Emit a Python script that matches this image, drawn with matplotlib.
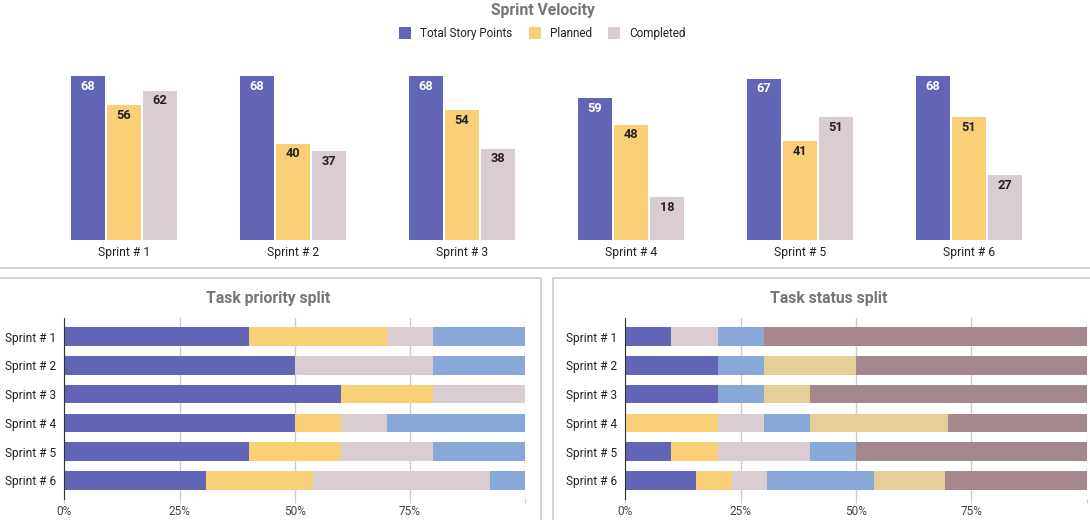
import matplotlib
matplotlib.use("Agg")
import matplotlib.pyplot as plt
from matplotlib.patches import Rectangle
from matplotlib.lines import Line2D
import numpy as np

plt.rcParams['font.family'] = ['Roboto', 'DejaVu Sans']

# ---------------- data ----------------
sprints = ["Sprint # 1", "Sprint # 2", "Sprint # 3", "Sprint # 4", "Sprint # 5", "Sprint # 6"]
total_points = [68, 68, 68, 59, 67, 68]
planned = [56, 40, 54, 48, 41, 51]
completed = [62, 37, 38, 18, 51, 27]
velocity_series = ["Total Story Points", "Planned", "Completed"]

# Task priority split (% per sprint, 4 segments)
prio_1 = [40, 50, 60, 50, 40, 30.8]
prio_2 = [30, 0, 20, 10, 20, 23.1]
prio_3 = [10, 30, 20, 10, 20, 38.5]
prio_4 = [20, 20, 0, 30, 20, 7.6]

# Task status split (% per sprint, 6 segments)
stat_1 = [10, 20, 20, 0, 10, 15.4]
stat_2 = [0, 0, 0, 20, 10, 7.7]
stat_3 = [10, 0, 0, 10, 20, 7.7]
stat_4 = [10, 10, 10, 10, 10, 23.1]
stat_5 = [0, 20, 10, 30, 0, 15.4]
stat_6 = [70, 50, 60, 30, 50, 30.7]

pct_ticks = [0, 25, 50, 75]
pct_labels = ["0%", "25%", "50%", "75%"]

# ---------------- style ----------------
PURPLE = "#6264b5"
YELLOW = "#f9d077"
PINK = "#d9cdd2"
BLUE = "#88a8d8"
TAN = "#e6cf96"
MAUVE = "#a5878e"
TITLE_GRAY = "#757575"
TEXT = "#222222"
BORDER = "#cccccc"

W, H = 1090, 520
fig = plt.figure(figsize=(W / 100, H / 100), dpi=100)


def px_axes(x0, y0, x1, y1):
    return fig.add_axes([x0 / W, 1 - y1 / H, (x1 - x0) / W, (y1 - y0) / H])


def fx(x):
    return x / W


def fy(y):
    return 1 - y / H


# ---------------- frames ----------------
fig.add_artist(Line2D([0, 1], [fy(268), fy(268)], transform=fig.transFigure, color=BORDER, lw=1.2))
fig.add_artist(Rectangle((fx(-2), fy(523)), fx(542.5), fy(277.5) - fy(523), transform=fig.transFigure,
                         fill=False, edgecolor=BORDER, lw=1.2))
fig.add_artist(Rectangle((fx(553.3), fy(523)), fx(560), fy(277.5) - fy(523), transform=fig.transFigure,
                         fill=False, edgecolor=BORDER, lw=1.2))

# ---------------- top chart ----------------
ax = px_axes(39.5, 60, 1053.5, 240.3)
x = np.arange(len(sprints))
bw = 0.201
off = 0.213
series = [total_points, planned, completed]
cols = [PURPLE, YELLOW, PINK]
lab_cols = ["white", TEXT, TEXT]
for k, (vals, c, lc) in enumerate(zip(series, cols, lab_cols)):
    xs = x + (k - 1) * off
    ax.bar(xs, vals, width=bw, color=c, label=velocity_series[k], zorder=2)
    for xi, v in zip(xs, vals):
        ax.annotate(str(v), (xi, v), xytext=(0, -7.3), textcoords="offset points",
                    ha="center", va="center", fontsize=9.2, fontweight="bold", color=lc)
ax.set_xlim(-0.5, len(sprints) - 0.5)
ax.set_ylim(0, 180 / 2.407)
ax.set_xticks(x)
ax.set_xticklabels(sprints, fontsize=8.7, color=TEXT)
ax.tick_params(axis="x", length=0, pad=4)
ax.set_yticks([])
for s in ax.spines.values():
    s.set_visible(False)

fig.text(fx(543), fy(10), "Sprint Velocity", ha="center", va="center", fontsize=11.3,
         fontweight="bold", color=TITLE_GRAY)

# legend (manual, so all labels share one baseline)
legend_sq_x = [399, 529, 608]
legend_txt_x = [420, 550, 629]
for sx, tx, c, name in zip(legend_sq_x, legend_txt_x, cols, velocity_series):
    fig.add_artist(Rectangle((fx(sx), fy(39)), 12 / W, 12 / H, transform=fig.transFigure,
                             facecolor=c, edgecolor="none"))
    fig.text(fx(tx), fy(32.2), name, ha="left", va="center_baseline", fontsize=8.5, color=TEXT)


# ---------------- bottom charts ----------------
def stacked(ax, segs, colors):
    y = np.arange(len(sprints))
    left = np.zeros(len(sprints))
    for vals, c in zip(segs, colors):
        vals = np.array(vals, dtype=float)
        ax.barh(y, vals, left=left, height=0.65, color=c, zorder=2)
        left += vals
    ax.set_ylim(len(sprints) - 0.35, -0.65)
    ax.set_xlim(0, 100)
    ax.set_yticks(y)
    ax.set_yticklabels(sprints, fontsize=8.6, color=TEXT)
    ax.tick_params(axis="y", length=0, pad=6)
    ax.set_xticks(pct_ticks + [100])
    ax.set_xticklabels(pct_labels + [""], fontsize=8.6, color="#444444")
    ax.tick_params(axis="x", length=3, color=BORDER, pad=1.5)
    ax.grid(axis="x", color=BORDER, lw=1, zorder=0)
    for s in ["top", "right", "bottom"]:
        ax.spines[s].set_visible(False)
    ax.spines["left"].set_color("#333333")
    ax.spines["left"].set_zorder(3)


ax1 = px_axes(64.3, 318, 525.2, 499)
stacked(ax1, [prio_1, prio_2, prio_3, prio_4], [PURPLE, YELLOW, PINK, BLUE])
fig.text(fx(268), fy(299), "Task priority split", ha="center", va="center", fontsize=11.3,
         fontweight="bold", color=TITLE_GRAY)

ax2 = px_axes(625.3, 318, 1086.5, 499)
stacked(ax2, [stat_1, stat_2, stat_3, stat_4, stat_5, stat_6],
        [PURPLE, YELLOW, PINK, BLUE, TAN, MAUVE])
fig.text(fx(829), fy(299), "Task status split", ha="center", va="center", fontsize=11.3,
         fontweight="bold", color=TITLE_GRAY)

fig.savefig("out.png", dpi=100)
